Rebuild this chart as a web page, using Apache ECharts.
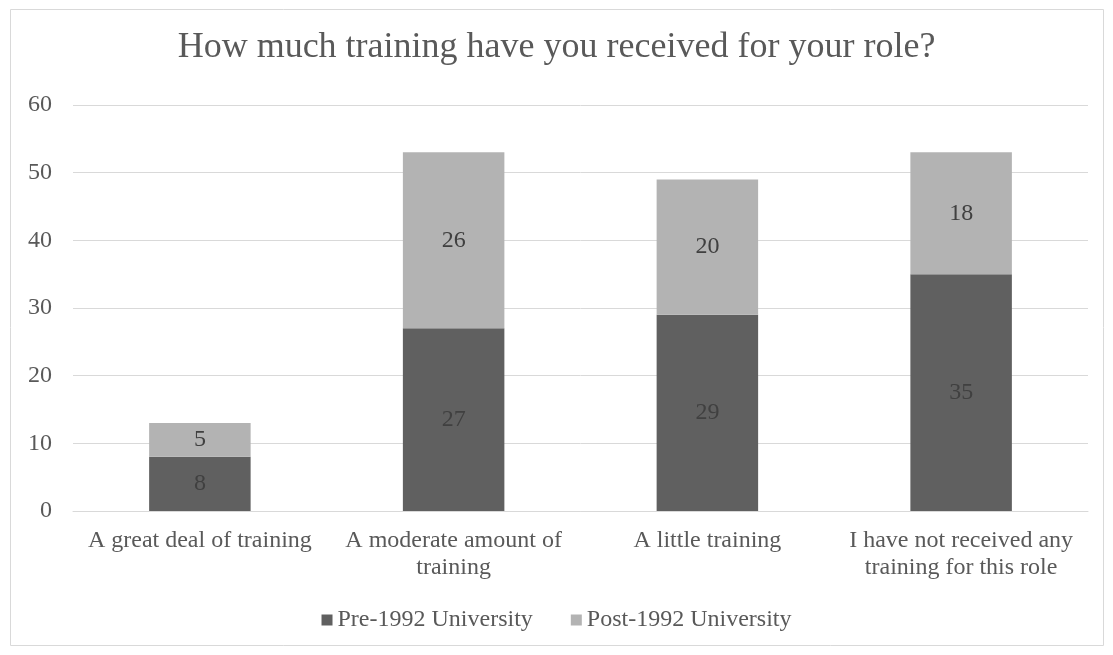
<!DOCTYPE html>
<html><head><meta charset="utf-8">
<script src="https://cdn.jsdelivr.net/npm/echarts@6/dist/echarts.min.js"></script>
<style>html,body{margin:0;padding:0;background:#fff}#c{width:1113px;height:655px}</style>
</head><body><div id="c"></div>
<script>
var categories = ['A great deal of training', 'A moderate amount of\ntraining', 'A little training', 'I have not received any\ntraining for this role'];
var preValues = [8, 27, 29, 35];
var postValues = [5, 26, 20, 18];
var seriesNames = ['Pre-1992 University', 'Post-1992 University'];
var yTicks = {min: 0, max: 60, interval: 10};

var font = '"Liberation Serif", "Times New Roman", serif';
var chart = echarts.init(document.getElementById('c'));
chart.setOption({
  animation: false,
  textStyle: {fontFamily: font},
  graphic: [{type: 'rect', shape: {x: 10.5, y: 9.5, width: 1093, height: 636}, style: {fill: 'none', stroke: '#d9d9d9', lineWidth: 1}, silent: true}],
  title: {text: 'How much training have you received for your role?', left: 'center', top: 25,
    textStyle: {fontFamily: font, fontSize: 36, fontWeight: 'normal', color: '#595959'}},
  legend: {bottom: 18, left: 'center', itemWidth: 11, itemHeight: 11, itemGap: 38, icon: 'rect',
    textStyle: {fontFamily: font, fontSize: 24, color: '#595959'}, data: seriesNames},
  grid: {left: 73, right: 25, top: 105, bottom: 144, containLabel: false},
  xAxis: {type: 'category', data: categories,
    axisLine: {lineStyle: {color: '#d9d9d9'}}, axisTick: {show: false},
    axisLabel: {fontFamily: font, fontSize: 24, color: '#595959', margin: 16, lineHeight: 27, interval: 0}},
  yAxis: {type: 'value', min: yTicks.min, max: yTicks.max, interval: yTicks.interval,
    axisLine: {show: false}, axisTick: {show: false},
    splitLine: {lineStyle: {color: '#d9d9d9'}},
    axisLabel: {fontFamily: font, fontSize: 24, color: '#595959', margin: 21}},
  series: [
    {name: seriesNames[0], type: 'bar', stack: 's', data: preValues, barWidth: '40%',
      itemStyle: {color: '#606060'},
      label: {show: true, position: 'inside', fontFamily: font, fontSize: 24, color: '#404040'}},
    {name: seriesNames[1], type: 'bar', stack: 's', data: postValues, barWidth: '40%',
      itemStyle: {color: '#b3b3b3'},
      label: {show: true, position: 'inside', fontFamily: font, fontSize: 24, color: '#404040'}}
  ]
});
</script></body></html>
